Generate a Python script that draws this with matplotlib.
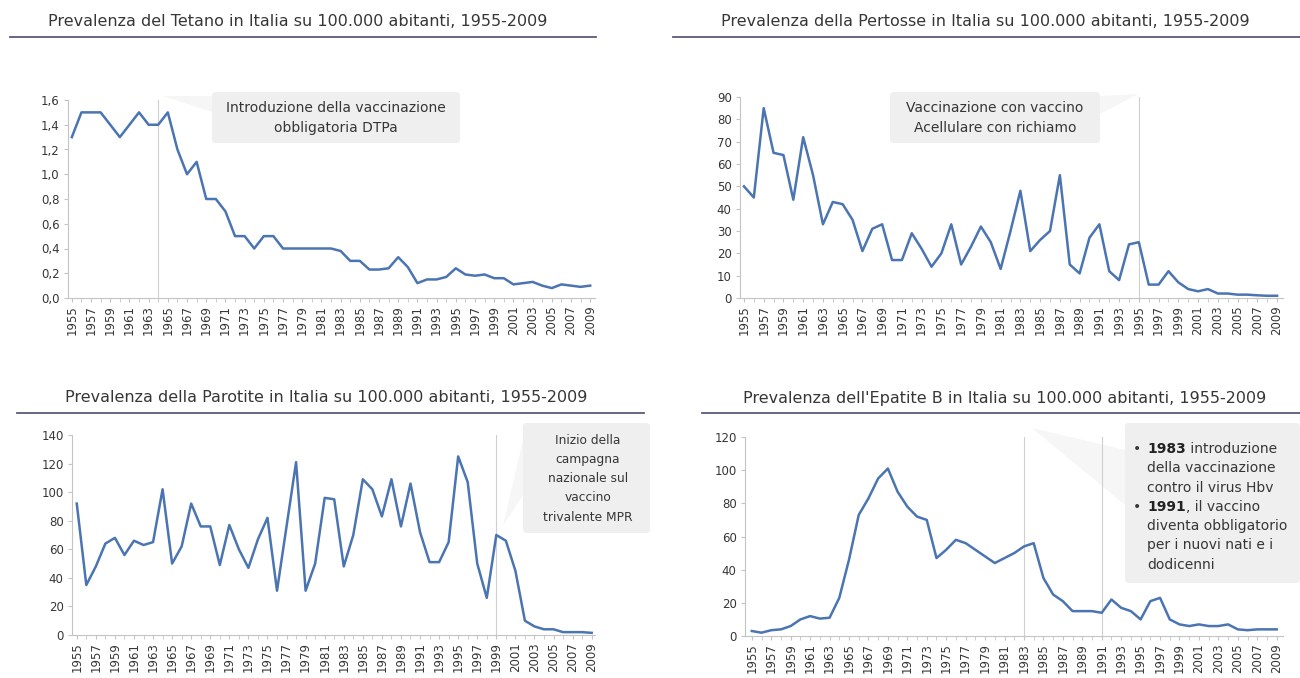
import matplotlib
matplotlib.use("Agg")
import matplotlib.pyplot as plt
from matplotlib.patches import FancyBboxPatch, Polygon
from matplotlib.lines import Line2D
from matplotlib.text import Annotation
from matplotlib.ticker import FuncFormatter, MultipleLocator
from matplotlib.transforms import Affine2D

# === dati
anni = list(range(1955, 2010))

tetano = [1.3, 1.5, 1.5, 1.5, 1.4, 1.3, 1.4, 1.5, 1.4, 1.4,
          1.5, 1.2, 1.0, 1.1, 0.8, 0.8, 0.7, 0.5, 0.5, 0.4,
          0.5, 0.5, 0.4, 0.4, 0.4, 0.4, 0.4, 0.4, 0.38, 0.3,
          0.3, 0.23, 0.23, 0.24, 0.33, 0.25, 0.12, 0.15, 0.15, 0.17,
          0.24, 0.19, 0.18, 0.19, 0.16, 0.16, 0.11, 0.12, 0.13, 0.10,
          0.08, 0.11, 0.10, 0.09, 0.10]

pertosse = [50, 45, 85, 65, 64, 44, 72, 55, 33, 43,
            42, 35, 21, 31, 33, 17, 17, 29, 22, 14,
            20, 33, 15, 23, 32, 25, 13, 30, 48, 21,
            26, 30, 55, 15, 11, 27, 33, 12, 8, 24,
            25, 6, 6, 12, 7, 4, 3, 4, 2, 2,
            1.5, 1.5, 1.2, 1, 1]

parotite = [92, 35, 48, 64, 68, 56, 66, 63, 65, 102,
            50, 62, 92, 76, 76, 49, 77, 60, 47, 67,
            82, 31, 76, 121, 31, 50, 96, 95, 48, 70,
            109, 102, 83, 109, 76, 106, 72, 51, 51, 65,
            125, 107, 50, 26, 70, 66, 45, 10, 6, 4,
            4, 2, 2, 2, 1.5]

epatite_b = [3, 2, 3.5, 4, 6, 10, 12, 10.5, 11, 23,
             46, 73, 83, 95, 101, 87, 78, 72, 70, 47,
             52, 58, 56, 52, 48, 44, 47, 50, 54, 56,
             35, 25, 21, 15, 15, 15, 14, 22, 17, 15,
             10, 21, 23, 10, 7, 6, 7, 6, 6, 7,
             4, 3.5, 4, 4, 4]

titoli = ["Prevalenza del Tetano in Italia su 100.000 abitanti, 1955-2009",
          "Prevalenza della Pertosse in Italia su 100.000 abitanti, 1955-2009",
          "Prevalenza della Parotite in Italia su 100.000 abitanti, 1955-2009",
          "Prevalenza dell'Epatite B in Italia su 100.000 abitanti, 1955-2009"]

eventi_tetano = [1964]
eventi_pertosse = [1995]
eventi_parotite = [1999]
eventi_epatite = [1983, 1991]

# === stile
LINE = "#4a74b2"
TXT = "#363636"
RULE = "#5a5a7a"
AXIS = "#c4c4c4"
BOX = "#efefef"
WEDGE = "#f6f6f6"
FS = 10

W, H = 1300, 678
fig = plt.figure(figsize=(13, 6.78), dpi=100)
# coordinate in pixel, origine in alto a sinistra
pix = Affine2D().scale(1 / 100, -1 / 100).translate(0, 6.78) + fig.dpi_scale_trans


def make_ax(box, xlim, ylim, step, fmt):
    x0, y0, x1, y1 = box
    ax = fig.add_axes([x0 / W, 1 - y1 / H, (x1 - x0) / W, (y1 - y0) / H])
    ax.set_xlim(*xlim)
    ax.set_ylim(*ylim)
    ax.yaxis.set_major_locator(MultipleLocator(step))
    ax.yaxis.set_major_formatter(FuncFormatter(fmt))
    ax.set_xticks(anni[::2])
    ax.set_xticks(anni, minor=True)
    ax.tick_params(axis="x", which="both", length=3, color=AXIS, labelsize=8.5,
                   labelcolor=TXT, rotation=90, pad=2)
    ax.tick_params(axis="y", length=3, color=AXIS, labelsize=8.5,
                   labelcolor=TXT, pad=3)
    for s in ["top", "right"]:
        ax.spines[s].set_visible(False)
    for s in ["left", "bottom"]:
        ax.spines[s].set_color(AXIS)
    ax.patch.set_alpha(0)
    return ax


def title(text, cx, y, x0, x1, yl):
    fig.text(cx, y, text, transform=pix, ha="center", va="center",
             fontsize=11.5, color=TXT)
    fig.add_artist(Line2D([x0, x1], [yl, yl], transform=pix, color=RULE, lw=1.3))


def box(x0, y0, x1, y1, wedge):
    fig.add_artist(Polygon(wedge, closed=True, transform=pix, fc=WEDGE,
                           ec="none", zorder=0))
    fig.add_artist(FancyBboxPatch((x0, y0), x1 - x0, y1 - y0,
                                  boxstyle="round,pad=0,rounding_size=4",
                                  transform=pix, fc=BOX, ec="none", zorder=0))


def scritta(x, y, s, ha="center", fs=FS, **kw):
    return fig.text(x, y, s, transform=pix, ha=ha, va="center",
                    fontsize=fs, color=TXT, **kw)


comma1 = lambda v, p: f"{v:.1f}".replace(".", ",")
intero = lambda v, p: f"{v:.0f}"

# === box e callout (dietro ai grafici)
box(212, 92, 460, 143, [(212, 96), (212, 112), (163, 96)])
box(890, 92, 1100, 143, [(1100, 96), (1100, 114), (1138, 94)])
box(523, 423, 650, 533, [(523, 440), (523, 495), (503, 526)])
box(1125, 423, 1300, 583, [(1032, 428), (1125, 450), (1125, 505)])

# === Tetano
ax1 = make_ax((68, 100, 595, 298), (1954.6, 2009.5), (0, 1.6), 0.2, comma1)
for e in eventi_tetano:
    ax1.axvline(e, color="#cfcfcf", lw=0.8)
ax1.plot(anni, tetano, color=LINE, lw=1.8)
title(titoli[0], 298, 21, 10, 596, 37)
scritta(336, 108, "Introduzione della vaccinazione")
scritta(336, 128, "obbligatoria DTPa")

# === Pertosse
ax2 = make_ax((740, 97, 1283, 298), (1954.6, 2009.6), (0, 90), 10, intero)
for e in eventi_pertosse:
    ax2.axvline(e, color="#cfcfcf", lw=0.8)
ax2.plot(anni, pertosse, color=LINE, lw=1.8)
title(titoli[1], 985, 21, 673, 1300, 37)
scritta(995, 108, "Vaccinazione con vaccino")
scritta(995, 128, "Acellulare con richiamo")

# === Parotite
ax3 = make_ax((72, 435, 595, 635), (1954.5, 2009.35), (0, 140), 20, intero)
for e in eventi_parotite:
    ax3.axvline(e, color="#cfcfcf", lw=0.8)
ax3.plot(anni, parotite, color=LINE, lw=1.8)
title(titoli[2], 326, 398, 17, 644, 413)
for i, riga in enumerate(["Inizio della", "campagna", "nazionale sul",
                          "vaccino", "trivalente MPR"]):
    scritta(588, 440 + i * 19.3, riga, fs=8.8)

# === Epatite B
ax4 = make_ax((745, 437, 1283, 636), (1954.3, 2009.65), (0, 120), 20, intero)
for e in eventi_epatite:
    ax4.axvline(e, color="#cfcfcf", lw=0.8)
ax4.plot(anni, epatite_b, color=LINE, lw=1.8)
title(titoli[3], 1005, 398, 702, 1300, 413)

righe = [("1983", " introduzione"), (None, "della vaccinazione"),
         (None, "contro il virus Hbv"), ("1991", ", il vaccino"),
         (None, "diventa obbligatorio"), (None, "per i nuovi nati e i"),
         (None, "dodicenni")]
for i, (g, r) in enumerate(righe):
    y = 449 + i * 19.3
    if g:
        scritta(1133, y, "•", ha="left")
        t = scritta(1147, y, g, ha="left", weight="bold")
        t.set_color("#222222")
        fig.add_artist(Annotation(r, xy=(1, 0.5), xycoords=t, va="center",
                                  ha="left", fontsize=FS, color=TXT))
    else:
        scritta(1147, y, r, ha="left")

fig.savefig("out.png", dpi=100)
